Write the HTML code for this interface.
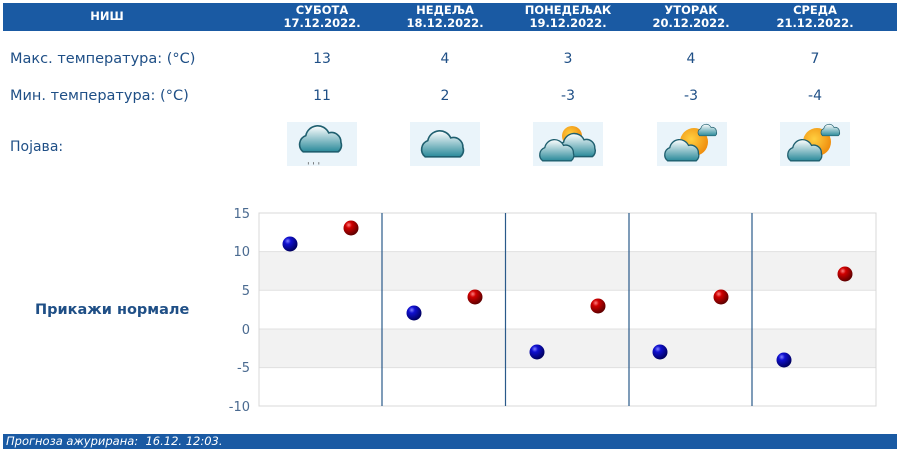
<!DOCTYPE html>
<html><head><meta charset="utf-8"><style>
body{margin:0;width:900px;height:452px;background:#fff;position:relative;overflow:hidden;font-family:"DejaVu Sans","Liberation Sans",sans-serif;}
.hb{position:absolute;left:3px;top:3px;width:894px;height:28px;background:#1a5aa3;}
.h{position:absolute;color:#fff;font-weight:bold;font-size:11.5px;text-align:center;line-height:13px;width:130px;}
.t{position:absolute;color:#1f4f86;font-size:14px;}
.v{position:absolute;color:#1f4f86;font-size:14px;width:60px;text-align:center;}
</style></head><body>
<div class="hb"></div>
<div class="h" style="left:42px;top:10px">НИШ</div>
<div class="h" style="left:257px;top:4px">СУБОТА<br>17.12.2022.</div>
<div class="h" style="left:380px;top:4px">НЕДЕЉА<br>18.12.2022.</div>
<div class="h" style="left:503px;top:4px">ПОНЕДЕЉАК<br>19.12.2022.</div>
<div class="h" style="left:626px;top:4px">УТОРАК<br>20.12.2022.</div>
<div class="h" style="left:750px;top:4px">СРЕДА<br>21.12.2022.</div>

<div class="t" style="left:10px;top:51px;font-size:14.5px">Макс. температура: (°C)</div>
<div class="t" style="left:10px;top:88px;font-size:14.5px">Мин. температура: (°C)</div>
<div class="t" style="left:10px;top:139px">Појава:</div>
<div class="v" style="left:292px;top:51px">13</div><div class="v" style="left:415px;top:51px">4</div><div class="v" style="left:538px;top:51px">3</div><div class="v" style="left:661px;top:51px">4</div><div class="v" style="left:785px;top:51px">7</div>
<div class="v" style="left:292px;top:88px">11</div><div class="v" style="left:415px;top:88px">2</div><div class="v" style="left:538px;top:88px">-3</div><div class="v" style="left:661px;top:88px">-3</div><div class="v" style="left:785px;top:88px">-4</div>

<svg width="900" height="452" style="position:absolute;left:0;top:0">
<defs>
<linearGradient id="cl" x1="0" y1="0" x2="0" y2="1"><stop offset="0" stop-color="#fff"/><stop offset="1" stop-color="#2a8a9a"/></linearGradient>
<radialGradient id="sn" cx=".4" cy=".4" r=".6"><stop offset="0" stop-color="#ffd040"/><stop offset="1" stop-color="#f09010"/></radialGradient>
<radialGradient id="bb" cx=".35" cy=".3" r=".7"><stop offset="0" stop-color="#8080ff"/><stop offset=".3" stop-color="#1010d0"/><stop offset="1" stop-color="#000060"/></radialGradient>
<radialGradient id="rb" cx=".35" cy=".3" r=".7"><stop offset="0" stop-color="#ff8080"/><stop offset=".3" stop-color="#d00000"/><stop offset="1" stop-color="#600000"/></radialGradient>
<g id="cloud"><path d="M-14,8 a7,7 0 0 1 2,-12 a9,9 0 0 1 17,-2 a7,7 0 0 1 9,7 a6,6 0 0 1 -2,7 z" fill="url(#cl)" stroke="#1f5f6f" stroke-width="1.2"/></g>
</defs>
<rect x="287" y="122" width="70" height="44" fill="#eaf4fa"/>
<g transform="translate(322,141) scale(1.35)"><use href="#cloud"/></g>
<text x="307" y="163" font-size="9" fill="#333">ˌ ˌ ˌ</text>
<rect x="410" y="122" width="70" height="44" fill="#eaf4fa"/>
<g transform="translate(444,146) scale(1.35)"><use href="#cloud"/></g>
<rect x="533" y="122" width="70" height="44" fill="#eaf4fa"/>
<circle cx="572" cy="136" r="10" fill="url(#sn)"/>
<g transform="translate(578,147) scale(1.2)"><use href="#cloud"/></g>
<g transform="translate(558,152) scale(1.1)"><use href="#cloud"/></g>
<rect x="657" y="122" width="70" height="44" fill="#eaf4fa"/>
<circle cx="694" cy="142" r="14" fill="url(#sn)"/>
<g transform="translate(708,131) scale(0.6)"><use href="#cloud"/></g>
<g transform="translate(683,152) scale(1.1)"><use href="#cloud"/></g>
<rect x="780" y="122" width="70" height="44" fill="#eaf4fa"/>
<circle cx="817" cy="142" r="14" fill="url(#sn)"/>
<g transform="translate(831,131) scale(0.6)"><use href="#cloud"/></g>
<g transform="translate(806,152) scale(1.1)"><use href="#cloud"/></g>
<rect x="259" y="251.6" width="617" height="38.6" fill="#f2f2f2"/>
<rect x="259" y="329" width="617" height="38.6" fill="#f2f2f2"/>
<g stroke="#e0e0e0" stroke-width="1">
<line x1="259" y1="251.6" x2="876" y2="251.6"/><line x1="259" y1="290.3" x2="876" y2="290.3"/><line x1="259" y1="329" x2="876" y2="329"/><line x1="259" y1="367.6" x2="876" y2="367.6"/>
</g>
<rect x="259" y="213" width="617" height="193" fill="none" stroke="#d8d8d8"/>
<g stroke="#2a5a8a" stroke-width="1.2"><line x1="382" y1="213" x2="382" y2="406"/><line x1="505.5" y1="213" x2="505.5" y2="406"/><line x1="629" y1="213" x2="629" y2="406"/><line x1="752" y1="213" x2="752" y2="406"/></g>
<g font-size="13" fill="#4a6a90" text-anchor="end">
<text x="250" y="218">15</text><text x="250" y="256">10</text><text x="250" y="295">5</text><text x="250" y="334">0</text><text x="250" y="372">-5</text><text x="250" y="411">-10</text>
</g>
<g>
<circle cx="290" cy="244" r="7.5" fill="url(#bb)"/><circle cx="351" cy="228" r="7.5" fill="url(#rb)"/>
<circle cx="414" cy="313" r="7.5" fill="url(#bb)"/><circle cx="475" cy="297" r="7.5" fill="url(#rb)"/>
<circle cx="537" cy="352" r="7.5" fill="url(#bb)"/><circle cx="598" cy="306" r="7.5" fill="url(#rb)"/>
<circle cx="660" cy="352" r="7.5" fill="url(#bb)"/><circle cx="721" cy="297" r="7.5" fill="url(#rb)"/>
<circle cx="784" cy="360" r="7.5" fill="url(#bb)"/><circle cx="845" cy="274" r="7.5" fill="url(#rb)"/>
</g>
</svg>
<div style="position:absolute;left:35px;top:302px;font-weight:bold;font-size:14.5px;color:#1f4f86">Прикажи нормале</div>
<div style="position:absolute;left:3px;top:434px;width:894px;height:15px;background:#1a5aa3;color:#fff;font-style:italic;font-size:11.5px;line-height:15px;padding-left:3px;box-sizing:border-box">Прогноза ажурирана:&nbsp; 16.12. 12:03.</div>
</body></html>
